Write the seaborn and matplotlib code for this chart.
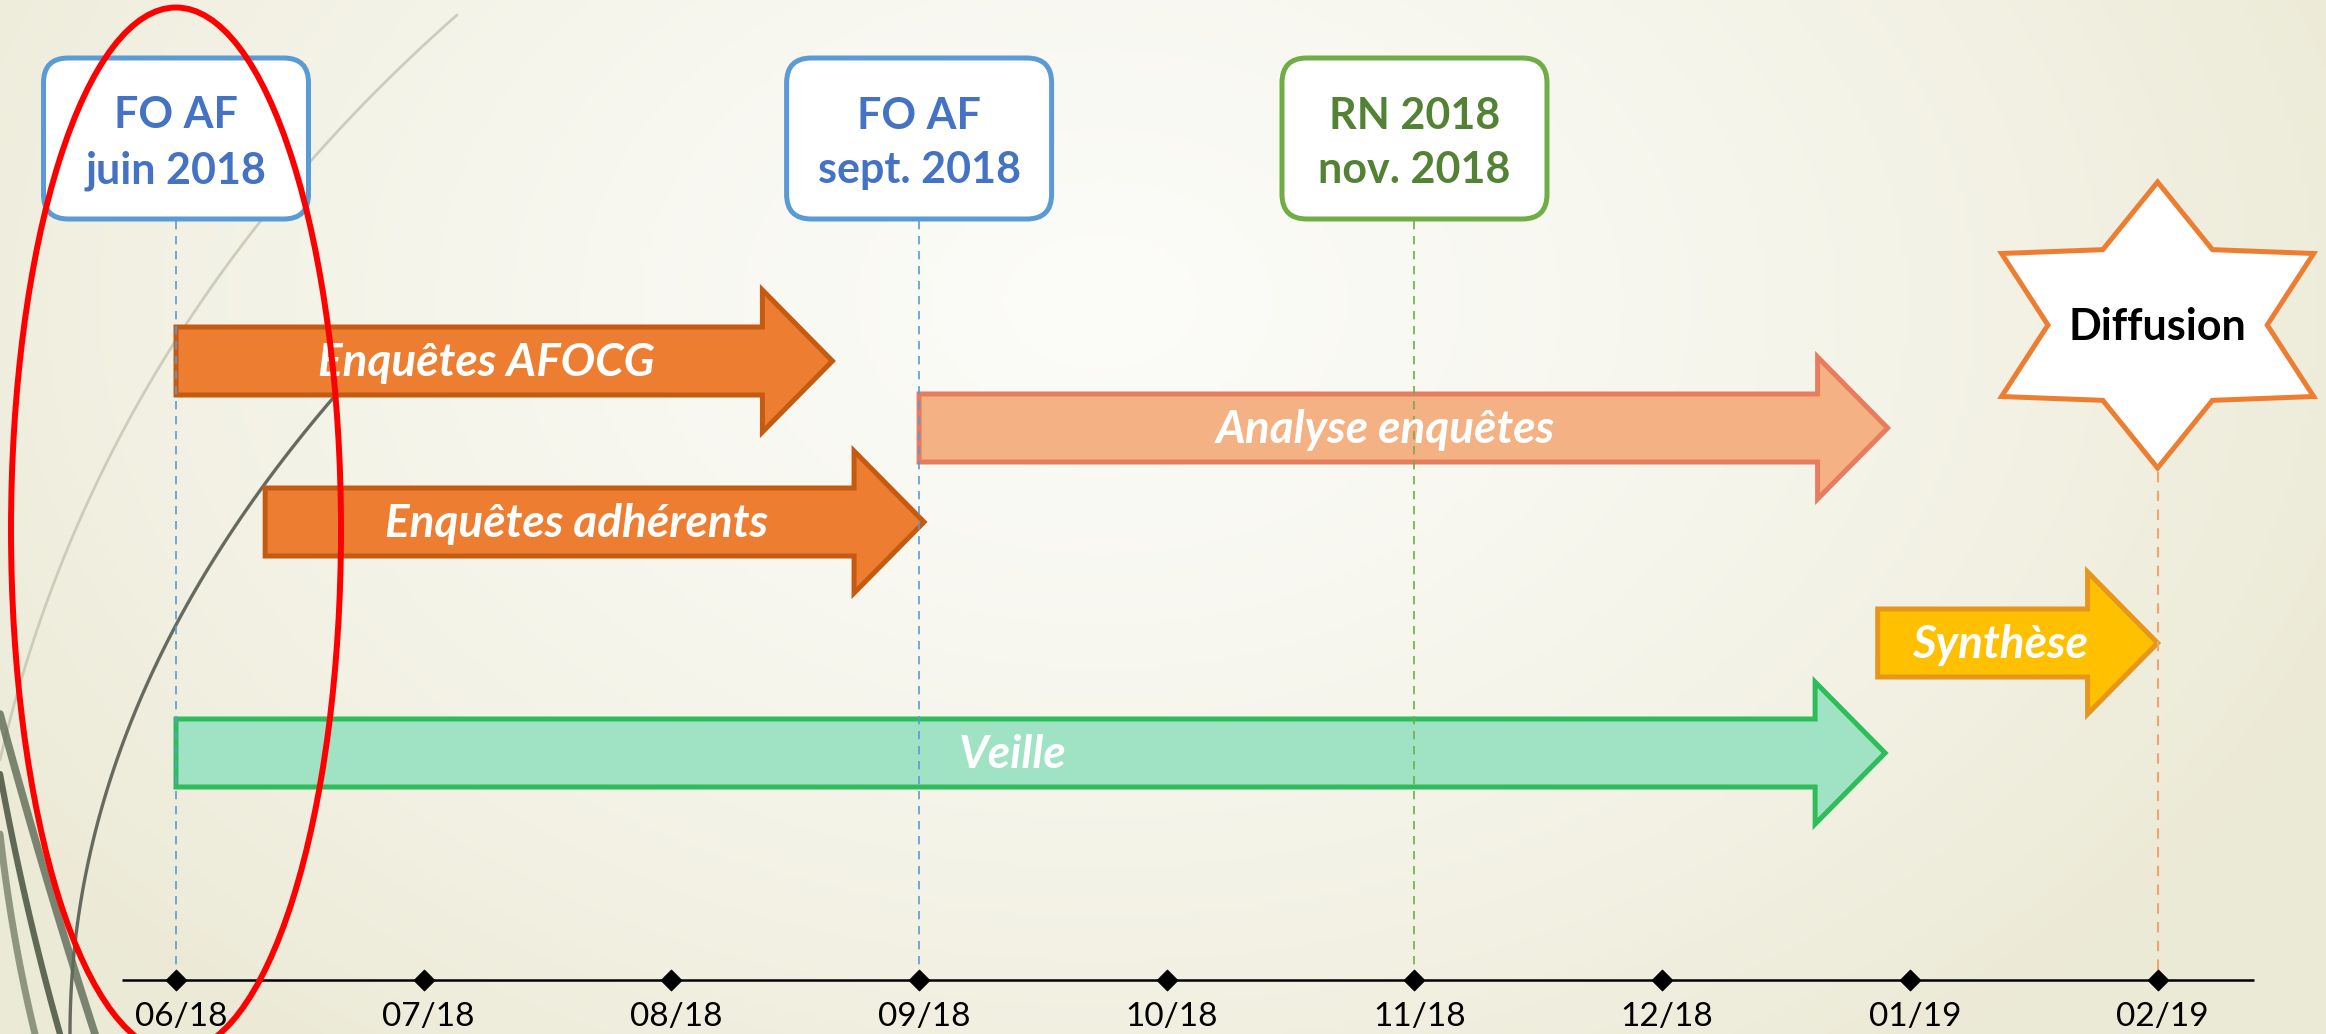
import numpy as np
import pandas as pd
import matplotlib.pyplot as plt
import seaborn as sns
from matplotlib.patches import Polygon, FancyBboxPatch, Ellipse
from matplotlib.lines import Line2D

# month index 0 = 06/18
month_labels = ['06/18', '07/18', '08/18', '09/18', '10/18', '11/18', '12/18', '01/19', '02/19']

task_names = ['Enquêtes AFOCG', 'Analyse enquêtes', 'Enquêtes adhérents', 'Synthèse', 'Veille']
task_start = [0.0, 3.0, 0.36, 6.87, 0.0]
task_end = [2.65, 6.91, 3.02, 8.0, 6.9]
task_lane = [0, 1, 2, 3, 4]

milestone_labels = ['FO AF\njuin 2018', 'FO AF\nsept. 2018', 'RN 2018\nnov. 2018']
milestone_month = [0, 3, 5]
diffusion_label = 'Diffusion'
diffusion_month = 8

W, H = 2326, 1034
PX = 247.7      # pixels per month
X0 = 176        # pixel of the first month
AXIS_Y = 980


def fig_pts(pts):
    pts = np.asarray(pts, dtype=float)
    return pts[:, 0] / W, 1 - pts[:, 1] / H


def bezier(p0, p1, p2, n=80):
    t = np.linspace(0, 1, n)[:, None]
    p0, p1, p2 = map(np.array, (p0, p1, p2))
    return (1 - t) ** 2 * p0 + 2 * (1 - t) * t * p1 + t ** 2 * p2


def draw_background(fig):
    yy, xx = np.mgrid[0:H:4, 0:W:4]
    d = np.sqrt(((xx - 1100) / 1350.0) ** 2 + ((yy - 300) / 950.0) ** 2)
    d = np.clip(d, 0, 1) ** 1.4
    c0 = np.array([0.986, 0.986, 0.972])
    c1 = np.array([0.925, 0.918, 0.840])
    img = c0 * (1 - d[..., None]) + c1 * d[..., None]
    bg = fig.add_axes([0, 0, 1, 1], zorder=0)
    bg.imshow(img, aspect='auto', extent=[0, 1, 0, 1], origin='upper')
    bg.axis('off')
    # decorative grass strokes on the left
    strokes = [
        ((457, 15), (100, 330), (0, 760), '#c4c4b4', 2.0, 0.8),
        ((340, 390), (70, 700), (70, 1034), '#4f5348', 2.4, 0.85),
        ((0, 714), (45, 880), (95, 1034), '#5e6a55', 5.5, 0.8),
        ((0, 774), (25, 910), (60, 1034), '#48523f', 4.5, 0.85),
        ((0, 834), (12, 940), (35, 1034), '#6f7a66', 5.0, 0.75),
    ]
    for p0, p1, p2, col, lw, a in strokes:
        x, y = fig_pts(bezier(p0, p1, p2))
        fig.add_artist(Line2D(x, y, color=col, lw=lw, alpha=a, zorder=1))


def arrow_poly(s, e, yc, body=34, head=71, head_len=70 / PX):
    b = e - head_len
    return [(s, yc - body), (b, yc - body), (b, yc - head), (e, yc),
            (b, yc + head), (b, yc + body), (s, yc + body)]


def create_plot():
    sns.set_theme(style='white')
    plt.rcParams['font.family'] = ['Lato', 'DejaVu Sans']
    fig = plt.figure(figsize=(W / 100, H / 100), dpi=100)
    draw_background(fig)

    ax = fig.add_axes([0, 0, 1, 1], zorder=2)
    ax.patch.set_alpha(0)

    lane_y = [361, 428, 522, 643, 753]
    task_colors = [('#ED7D31', '#C55A11'), ('#F4B183', '#E87C5F'), ('#ED7D31', '#C55A11'),
                   ('#FFC000', '#E6961A'), ('#A0E2C4', '#2FBD5C')]
    head_len = 70 / PX
    for name, s, e, lane, (fc, ec) in zip(task_names, task_start, task_end, task_lane, task_colors):
        yc = lane_y[lane]
        ax.add_patch(Polygon(arrow_poly(s, e, yc), closed=True, facecolor=fc,
                             edgecolor=ec, lw=3.6, joinstyle='miter', zorder=3))
        ax.text((s + e - head_len) / 2 + 0.07, yc + 2, name, color='white', fontsize=33,
                fontweight='bold', fontstyle='italic', ha='center', va='center', zorder=6)

    # milestone boxes
    box_w, box_top, box_bot = 265 / PX, 58, 219
    box_cols = [('#5B9BD5', '#4472C4'), ('#5B9BD5', '#4472C4'), ('#70AD47', '#548235')]
    for lab, m, (ec, tc) in zip(milestone_labels, milestone_month, box_cols):
        ax.add_patch(FancyBboxPatch((m - box_w / 2, box_top), box_w, box_bot - box_top,
                                    boxstyle='round,pad=0,rounding_size=0.1',
                                    mutation_aspect=PX, facecolor='white', edgecolor=ec,
                                    lw=3.6, zorder=4))
        ax.text(m, 143, lab, color=tc, fontsize=31, fontweight='bold', ha='center',
                va='center', linespacing=1.45, zorder=6)
        ax.vlines(m, box_bot + 2, AXIS_Y, colors=ec, lw=1.2, linestyles=(0, (5, 4)), zorder=4.5)

    # diffusion star
    cy = 325
    R, r, sx = 143, 87, 1.26
    ang_out = np.deg2rad(90 - 60 * np.arange(6))
    ang_in = ang_out - np.deg2rad(30)
    verts = []
    for ao, ai in zip(ang_out, ang_in):
        verts.append((diffusion_month + R * np.cos(ao) * sx / PX, cy - R * np.sin(ao)))
        verts.append((diffusion_month + r * np.cos(ai) * sx / PX, cy - r * np.sin(ai)))
    ax.add_patch(Polygon(verts, closed=True, facecolor='white', edgecolor='#ED7D31',
                         lw=3.6, joinstyle='miter', zorder=4))
    ax.text(diffusion_month, cy + 2, diffusion_label, color='black', fontsize=31,
            fontweight='bold', ha='center', va='center', zorder=6)
    ax.vlines(diffusion_month, cy + R + 4, AXIS_Y, colors='#F4A46A', lw=1.5,
              linestyles=(0, (5, 4)), zorder=4.5)

    # time axis
    months = np.arange(len(month_labels))
    ax.hlines(AXIS_Y, months[0] - 0.22, months[-1] + 0.39, colors='black', lw=1.8, zorder=5)
    ticks = pd.DataFrame({'month': months, 'y': AXIS_Y})
    sns.scatterplot(data=ticks, x='month', y='y', marker='D', s=110, color='black',
                    edgecolor='black', ax=ax, zorder=6, legend=False)
    for m, lab in zip(months, month_labels):
        ax.text(m + 0.02, 1017, lab, fontsize=24, color='black', ha='center', va='center', zorder=6)

    # red highlight ellipse
    ax.add_patch(Ellipse((0, 530), 330 / PX, 1045, facecolor='none', edgecolor='#FF0000',
                         lw=4.3, zorder=10))

    ax.set_xlim(-X0 / PX, (W - X0) / PX)
    ax.set_ylim(H, 0)
    ax.axis('off')
    return fig


def main():
    fig = create_plot()
    fig.savefig('out.png', dpi=100)


if __name__ == '__main__':
    main()
